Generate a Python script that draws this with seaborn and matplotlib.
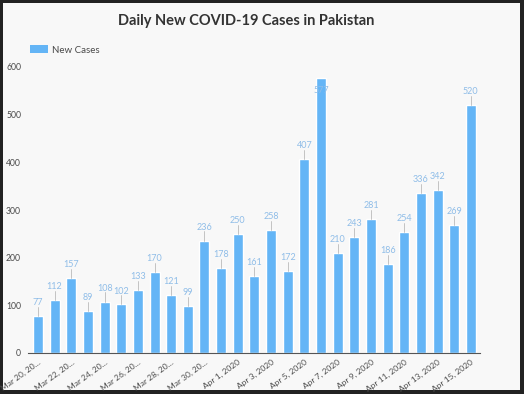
#!/usr/bin/env python3
"""Daily new COVID-19 cases in Pakistan, Mar 20 - Apr 15 2020 (bar chart)."""
import matplotlib
matplotlib.use("Agg")
import matplotlib.pyplot as plt
from matplotlib.patches import Patch, Rectangle
import pandas as pd
import seaborn as sns

DATES = (
    [f"Mar {d}, 2020" for d in range(20, 32)]
    + [f"Apr {d}, 2020" for d in range(1, 16)]
)
TICK_LABELS = [
    "Mar 20, 20…", "Mar 22, 20…", "Mar 24, 20…", "Mar 26, 20…",
    "Mar 28, 20…", "Mar 30, 20…", "Apr 1, 2020", "Apr 3, 2020",
    "Apr 5, 2020", "Apr 7, 2020", "Apr 9, 2020", "Apr 11, 2020",
    "Apr 13, 2020", "Apr 15, 2020",
]
NEW_CASES = [77, 112, 157, 89, 108, 102, 133, 170, 121, 99, 236, 178, 250, 161,
             258, 172, 407, 577, 210, 243, 281, 186, 254, 336, 342, 269, 520]
Y_TICKS = [0, 100, 200, 300, 400, 500, 600]

BAR = "#64b5f6"
LABEL = "#8fbde8"
BG = "#f8f8f8"
TXT = "#4a4a4a"

sns.set_theme(style="white")
plt.rcParams["font.family"] = ["Lato", "DejaVu Sans"]

df = pd.DataFrame({"date": DATES, "cases": NEW_CASES})

fig = plt.figure(figsize=(5.24, 3.94), dpi=100, facecolor="#222222")
fig.patches.append(Rectangle((3 / 524, 4 / 394), 517 / 524, 387 / 394,
                             transform=fig.transFigure, facecolor=BG,
                             edgecolor="none", zorder=-5))
ax = fig.add_axes([28 / 524, 41 / 394, 452 / 524, 286 / 394])
ax.patch.set_alpha(0)

sns.barplot(data=df, x="date", y="cases", color=BAR, saturation=1,
            width=0.6, ax=ax)

ax.set_ylim(0, 600)
ax.set_xlim(-0.6, len(DATES) - 0.45)
ax.set_yticks(Y_TICKS)
ax.set_yticklabels([str(v) for v in Y_TICKS], fontsize=6.2, color=TXT)
ax.set_xticks(range(0, len(DATES), 2))
ax.set_xticklabels(TICK_LABELS, rotation=36, ha="right",
                   rotation_mode="anchor", fontsize=6, color=TXT)
ax.tick_params(axis="both", length=0)
ax.tick_params(axis="y", pad=5)
ax.tick_params(axis="x", pad=4)
ax.set_xlabel("")
ax.set_ylabel("")
for s in ["top", "right", "left"]:
    ax.spines[s].set_visible(False)
ax.spines["bottom"].set_color("#555555")
ax.spines["bottom"].set_linewidth(0.8)

# value labels with leader lines
for i, v in enumerate(NEW_CASES):
    if v + 35 > 600:
        ax.text(i, v - 27, str(v), ha="center", va="center", fontsize=6.5,
                color=LABEL)
        continue
    ax.plot([i, i], [v, v + 19], color="#bbbbbb", lw=0.6)
    ax.text(i, v + 28, str(v), ha="center", va="center", fontsize=6.5,
            color=LABEL)

ax.legend(handles=[Patch(facecolor=BAR, edgecolor="none", label="New Cases")],
          loc="upper left", bbox_to_anchor=(30 / 524, 1 - 45 / 394),
          bbox_transform=fig.transFigure, frameon=False, fontsize=7,
          borderpad=0, borderaxespad=0,
          handlelength=1.85, handleheight=0.95, handletextpad=0.45,
          labelcolor=TXT)

fig.text(246 / 524, 1 - 21 / 394, "Daily New COVID-19 Cases in Pakistan",
         ha="center", va="center", fontsize=10.5, fontweight="bold",
         color="#333333")

fig.savefig("out.png", dpi=100, facecolor=fig.get_facecolor())
